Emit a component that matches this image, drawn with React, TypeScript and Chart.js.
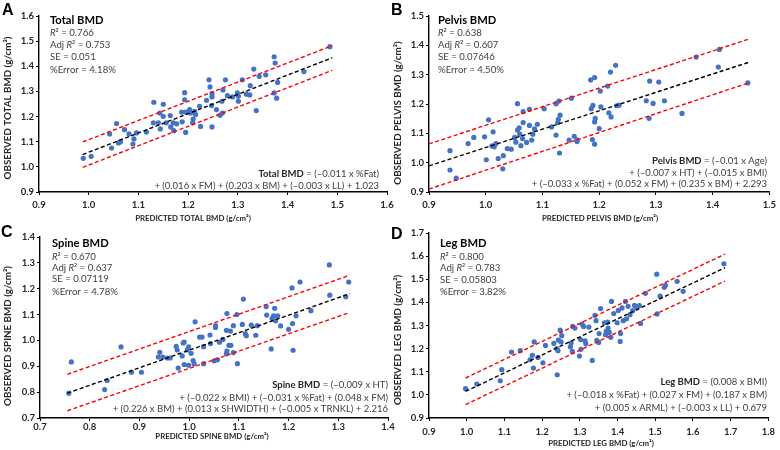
import React, { useEffect, useRef } from "react";
import { Chart, registerables } from "chart.js";
Chart.register(...registerables);

const FAMILY = "Lato, 'Open Sans', sans-serif";

// ---------- DATA ----------
const A_x = [0.989,1.005,1.042,1.046,1.056,1.060,1.064,1.072,1.081,1.089,1.091,1.096,1.116,1.131,1.130,1.140,1.143,1.144,1.150,1.150,1.156,1.164,1.165,1.170,1.171,1.177,1.187,1.188,1.193,1.193,1.195,1.195,1.203,1.205,1.209,1.210,1.213,1.215,1.223,1.225,1.237,1.242,1.244,1.247,1.248,1.248,1.248,1.257,1.264,1.268,1.270,1.269,1.275,1.279,1.289,1.299,1.301,1.301,1.309,1.317,1.324,1.325,1.332,1.337,1.343,1.356,1.373,1.375,1.373,1.378,1.380,1.433,1.485];
const A_y = [1.034,1.042,1.131,1.075,1.172,1.095,1.100,1.148,1.131,1.091,1.111,1.135,1.139,1.257,1.175,1.175,1.214,1.151,1.249,1.201,1.175,1.204,1.159,1.175,1.144,1.171,1.218,1.179,1.295,1.267,1.137,1.218,1.228,1.214,1.175,1.190,1.221,1.208,1.241,1.161,1.265,1.346,1.318,1.244,1.278,1.291,1.159,1.228,1.205,1.261,1.306,1.214,1.346,1.283,1.278,1.294,1.261,1.281,1.346,1.289,1.286,1.323,1.389,1.224,1.360,1.366,1.438,1.413,1.294,1.273,1.336,1.379,1.478];
const A_fitX = [0.988, 1.49];
const A_fitY = [1.049, 1.434];
const A_upY = [1.099, 1.482];
const A_loY = [0.998, 1.384];

const B_x = [0.937,0.937,0.948,0.969,0.979,0.998,1.001,1.005,1.013,1.011,1.015,1.018,1.022,1.030,1.031,1.038,1.045,1.051,1.053,1.056,1.056,1.059,1.060,1.062,1.065,1.066,1.066,1.072,1.077,1.077,1.081,1.083,1.086,1.091,1.103,1.116,1.124,1.124,1.127,1.128,1.129,1.130,1.131,1.147,1.151,1.156,1.161,1.161,1.185,1.186,1.188,1.189,1.192,1.192,1.193,1.192,1.200,1.202,1.203,1.215,1.217,1.220,1.221,1.229,1.231,1.235,1.283,1.289,1.288,1.295,1.305,1.315,1.346,1.371,1.410,1.412,1.462];
const B_y = [1.041,0.975,0.947,1.065,1.086,1.088,1.010,1.146,1.105,1.057,1.054,1.065,1.014,0.979,1.024,1.048,1.046,1.086,1.070,1.201,1.111,1.119,1.097,1.058,1.082,1.137,1.174,1.069,1.127,1.182,1.077,1.097,1.115,1.131,1.184,1.122,1.094,1.201,1.137,1.148,1.210,1.033,1.162,1.077,1.220,1.090,1.072,1.078,1.282,1.184,1.079,1.195,1.290,1.139,1.151,1.063,1.116,1.244,1.190,1.261,1.170,1.309,1.156,1.332,1.194,1.196,1.211,1.278,1.151,1.202,1.275,1.211,1.168,1.360,1.326,1.386,1.272];
const B_fitX = [0.9, 1.465];
const B_fitY = [0.989, 1.343];
const B_upY = [1.064, 1.422];
const B_loY = [0.910, 1.273];

const C_x = [0.758,0.763,0.830,0.835,0.863,0.884,0.904,0.938,0.941,0.947,0.956,0.962,0.974,0.976,0.978,0.986,0.988,0.990,0.990,0.996,0.999,0.999,1.004,1.008,1.010,1.012,1.021,1.026,1.029,1.029,1.042,1.043,1.050,1.053,1.053,1.057,1.061,1.068,1.075,1.075,1.076,1.076,1.080,1.083,1.084,1.089,1.089,1.096,1.097,1.107,1.109,1.113,1.115,1.125,1.134,1.137,1.155,1.156,1.165,1.167,1.170,1.172,1.174,1.178,1.184,1.200,1.207,1.208,1.209,1.215,1.223,1.245,1.282,1.283,1.315,1.321];
const C_y = [0.796,0.917,0.810,0.845,0.975,0.877,0.877,0.936,0.954,0.936,0.932,0.932,0.977,0.963,0.893,0.940,0.990,0.994,0.907,0.963,0.975,0.904,0.950,0.922,0.910,1.072,1.013,1.013,0.976,0.910,1.021,0.988,0.921,1.057,1.050,0.925,0.993,1.004,1.039,0.948,0.959,1.104,0.981,1.036,0.981,0.953,1.057,1.100,0.910,1.062,1.160,1.026,1.018,1.059,1.020,1.057,1.131,1.098,0.967,1.085,1.095,1.124,1.076,1.095,1.056,1.043,1.203,1.065,0.962,1.095,1.226,1.115,1.292,1.175,1.169,1.226];
const C_fitX = [0.755, 1.323];
const C_fitY = [0.796, 1.181];
const C_upY = [0.869, 1.252];
const C_loY = [0.728, 1.108];

const D_x = [0.997,1.027,1.089,1.093,1.119,1.142,1.168,1.174,1.177,1.179,1.189,1.202,1.209,1.231,1.239,1.240,1.242,1.243,1.248,1.250,1.252,1.275,1.277,1.280,1.281,1.287,1.299,1.302,1.303,1.306,1.310,1.314,1.316,1.324,1.333,1.340,1.343,1.345,1.350,1.351,1.355,1.365,1.368,1.370,1.374,1.375,1.378,1.382,1.384,1.390,1.399,1.402,1.407,1.408,1.412,1.415,1.421,1.424,1.428,1.433,1.440,1.445,1.451,1.458,1.461,1.474,1.504,1.505,1.513,1.524,1.527,1.558,1.574,1.682];
const D_y = [1.027,1.047,1.061,1.109,1.185,1.191,1.152,1.171,1.116,1.229,1.162,1.139,1.214,1.223,1.200,1.087,1.191,1.237,1.280,1.229,1.256,1.208,1.224,1.188,1.296,1.289,1.168,1.239,1.197,1.306,1.296,1.234,1.221,1.293,1.149,1.344,1.321,1.236,1.227,1.265,1.373,1.312,1.260,1.275,1.315,1.289,1.270,1.249,1.404,1.352,1.312,1.365,1.231,1.265,1.376,1.321,1.404,1.329,1.383,1.347,1.364,1.387,1.378,1.386,1.309,1.439,1.522,1.350,1.427,1.465,1.474,1.491,1.448,1.567];
const D_fitX = [0.997, 1.685];
const D_fitY = [1.015, 1.550];
const D_upY = [1.073, 1.609];
const D_loY = [0.958, 1.492];

// axis ranges
const A_range = { xmin: 0.9, xmax: 1.6, ymin: 0.9, ymax: 1.6 };
const B_range = { xmin: 0.9, xmax: 1.5, ymin: 0.9, ymax: 1.5 };
const C_range = { xmin: 0.7, xmax: 1.4, ymin: 0.7, ymax: 1.4 };
const D_range = { xmin: 0.9, xmax: 1.8, ymin: 0.9, ymax: 1.7 };

// texts
const A_name = "Total BMD";
const A_stats = ["0.766", "0.753", "0.051", "4.18%"];
const A_eq = [" = (–0.011 x %Fat)", "+ (0.016 x FM) + (0.203 x BM) + (–0.003 x LL) + 1.023"];
const B_name = "Pelvis BMD";
const B_stats = ["0.638", "0.607", "0.07646", "4.50%"];
const B_eq = [" = (–0.01 x Age)", "+ (–0.007 x HT) + (–0.015 x BMI)", "+ (–0.033 x %Fat) + (0.052 x FM) + (0.235 x BM) + 2.293"];
const C_name = "Spine BMD";
const C_stats = ["0.670", "0.637", "0.07119", "4.78%"];
const C_eq = [" = (–0.009 x HT)", "+ (–0.022 x BMI) + (–0.031 x %Fat) + (0.048 x FM)", "+ (0.226 x BM) + (0.013 x SHWIDTH) + (–0.005 x TRNKL) + 2.216"];
const D_name = "Leg BMD";
const D_stats = ["0.800", "0.783", "0.05803", "3.82%"];
const D_eq = [" = (0.008 x BMI)", "+ (–0.018 x %Fat) + (0.027 x FM) + (0.187 x BM)", "+ (0.005 x ARML) + (–0.003 x LL) + 0.679"];

const A_xTitle = "PREDICTED TOTAL BMD (g/cm²)";
const A_yTitle = "OBSERVED TOTAL BMD (g/cm²)";
const B_xTitle = "PREDICTED PELVIS BMD (g/cm²)";
const B_yTitle = "OBSERVED PELVIS BMD (g/cm²)";
const C_xTitle = "PREDICTED SPINE BMD (g/cm²)";
const C_yTitle = "OBSERVED SPINE BMD (g/cm²)";
const D_xTitle = "PREDICTED LEG BMD (g/cm²)";
const D_yTitle = "OBSERVED LEG BMD (g/cm²)";

// ---------- LAYOUT (pixels, not data) ----------
type Layout = {
  letter: string; letterX: number; letterY: number;
  left: number; top: number; right: number; bottom: number;
  xTickPad: number;
  statX: number; statTitleY: number; statYs: number[];
  eqRight: number; eqYs: number[];
  xTitleX: number; xTitleY: number; yTitleX: number; yTitleY: number;
};

const W = 780, H = 450;

type Seg = { t: string; b?: boolean; i?: boolean };

function drawRich(ctx: CanvasRenderingContext2D, segs: Seg[], x: number, y: number, align: "left" | "right", size: number, normalColor: string, boldColor: string) {
  const fontFor = (s: Seg) => `${s.i ? "italic " : ""}${s.b ? "bold " : ""}${size}px ${FAMILY}`;
  let total = 0;
  for (const s of segs) { ctx.font = fontFor(s); total += ctx.measureText(s.t).width; }
  let cx = align === "right" ? x - total : x;
  ctx.textAlign = "left";
  ctx.textBaseline = "middle";
  for (const s of segs) {
    ctx.font = fontFor(s);
    ctx.fillStyle = s.b ? boldColor : normalColor;
    ctx.fillText(s.t, cx, y);
    cx += ctx.measureText(s.t).width;
  }
}

function makePanel(canvas: HTMLCanvasElement, xs: number[], ys: number[], fitX: number[], fitY: number[], upY: number[], loY: number[], range: any, name: string, stats: string[], eq: string[], xTitle: string, yTitle: string, L: Layout) {
  const n = Math.min(xs.length, ys.length);
  const pts = [] as { x: number; y: number }[];
  for (let i = 0; i < n; i++) pts.push({ x: xs[i], y: ys[i] });
  const line = (yy: number[]) => fitX.map((x, i) => ({ x, y: yy[i] }));
  const yAxisW = L.left >= 390 ? L.left - 390 : L.left;

  const textPlugin = {
    id: "texts" + L.letter,
    afterDraw(chart: any) {
      const ctx: CanvasRenderingContext2D = chart.ctx;
      ctx.save();
      // panel letter
      ctx.font = `bold 16px 'Liberation Sans', Arial, sans-serif`;
      ctx.fillStyle = "#000";
      ctx.textAlign = "left";
      ctx.textBaseline = "alphabetic";
      ctx.fillText(L.letter, L.letterX, L.letterY);
      // stats
      const gray = "#404040";
      drawRich(ctx, [{ t: name, b: true }], L.statX, L.statTitleY, "left", 11.2, gray, "#000");
      drawRich(ctx, [{ t: "R", i: true }, { t: "² = " + stats[0] }], L.statX, L.statYs[0], "left", 9.6, gray, gray);
      drawRich(ctx, [{ t: "Adj " }, { t: "R", i: true }, { t: "² = " + stats[1] }], L.statX, L.statYs[1], "left", 9.6, gray, gray);
      drawRich(ctx, [{ t: "SE = " + stats[2] }], L.statX, L.statYs[2], "left", 9.6, gray, gray);
      drawRich(ctx, [{ t: "%Error = " + stats[3] }], L.statX, L.statYs[3], "left", 9.6, gray, gray);
      // equation
      eq.forEach((line, i) => {
        const segs: Seg[] = i === 0 ? [{ t: name, b: true }, { t: line }] : [{ t: line }];
        drawRich(ctx, segs, L.eqRight, L.eqYs[i], "right", 9.5, gray, "#262626");
      });
      // axis titles
      ctx.fillStyle = "#262626";
      ctx.font = `bold 7.8px ${FAMILY}`;
      ctx.textAlign = "center";
      ctx.textBaseline = "middle";
      ctx.fillText(xTitle, L.xTitleX, L.xTitleY);
      ctx.translate(L.yTitleX, L.yTitleY);
      ctx.rotate(-Math.PI / 2);
      ctx.font = `bold 9.8px ${FAMILY}`;
      ctx.fillText(yTitle, 0, 0);
      ctx.restore();
    },
  };

  const axisCommon = (min: number, max: number) => ({
    type: "linear" as const,
    min, max,
    ticks: {
      stepSize: 0.1,
      color: "#262626",
      font: { family: FAMILY, size: 9.5, weight: "bold" as const },
      callback: (v: any) => Number(v).toFixed(1),
    },
    grid: { display: true, drawOnChartArea: false, drawTicks: true, tickLength: 3, tickColor: "#000", lineWidth: 1 },
    border: { display: true, color: "#000", width: 1.4 },
    title: { display: false },
  });

  const xScale: any = axisCommon(range.xmin, range.xmax);
  xScale.ticks.padding = L.xTickPad;
  xScale.afterFit = (s: any) => { s.height = 20; };
  const yScale: any = axisCommon(range.ymin, range.ymax);
  yScale.ticks.padding = 2;
  yScale.afterFit = (s: any) => { s.width = yAxisW; };

  const padLeft = L.left - yAxisW;

  return new Chart(canvas, {
    type: "scatter",
    data: {
      datasets: [
        { data: line(fitY), showLine: true, pointRadius: 0, borderColor: "#000", borderWidth: 1.4, borderDash: [4, 2.5], fill: false } as any,
        { data: line(upY), showLine: true, pointRadius: 0, borderColor: "#FF0000", borderWidth: 1.4, borderDash: [4, 2.5], fill: false } as any,
        { data: line(loY), showLine: true, pointRadius: 0, borderColor: "#FF0000", borderWidth: 1.4, borderDash: [4, 2.5], fill: false } as any,
        { data: pts, pointRadius: 2.6, pointBackgroundColor: "#4472C4", pointBorderWidth: 0, pointBorderColor: "#4472C4" } as any,
      ],
    },
    options: {
      responsive: false,
      animation: false,
      layout: { padding: { left: padLeft, top: L.top, right: W - L.right, bottom: H - L.bottom - 20 } },
      plugins: { legend: { display: false }, tooltip: { enabled: false } },
      events: [],
      scales: { x: xScale, y: yScale },
    } as any,
    plugins: [textPlugin],
  });
}

const LA: Layout = {
  letter: "A", letterX: 2, letterY: 15,
  left: 39, top: 16, right: 387, bottom: 192, xTickPad: 4,
  statX: 50, statTitleY: 20, statYs: [33, 45, 57, 70],
  eqRight: 379, eqYs: [174, 186],
  xTitleX: 193, xTitleY: 218, yTitleX: 8, yTitleY: 108,
};
const LB: Layout = {
  letter: "B", letterX: 391, letterY: 15,
  left: 429, top: 16, right: 771, bottom: 192, xTickPad: 4,
  statX: 438, statTitleY: 20, statYs: [33, 45, 57, 70],
  eqRight: 767, eqYs: [161, 173, 184],
  xTitleX: 600, xTitleY: 218, yTitleX: 398, yTitleY: 113,
};
const LC: Layout = {
  letter: "C", letterX: 1, letterY: 237,
  left: 40, top: 237, right: 388, bottom: 418, xTickPad: 0,
  statX: 52, statTitleY: 243, statYs: [257, 268, 279, 292],
  eqRight: 388, eqYs: [385, 398, 409],
  xTitleX: 212, xTitleY: 436, yTitleX: 8, yTitleY: 336,
};
const LD: Layout = {
  letter: "D", letterX: 391, letterY: 239,
  left: 429, top: 233, right: 770, bottom: 418, xTickPad: 5,
  statX: 440, statTitleY: 243, statYs: [257, 268, 280, 292],
  eqRight: 767, eqYs: [382, 395, 408],
  xTitleX: 601, xTitleY: 443, yTitleX: 398, yTitleY: 340,
};

export default function App() {
  const r1 = useRef<HTMLCanvasElement>(null);
  const r2 = useRef<HTMLCanvasElement>(null);
  const r3 = useRef<HTMLCanvasElement>(null);
  const r4 = useRef<HTMLCanvasElement>(null);

  useEffect(() => {
    const charts = [
      makePanel(r1.current!, A_x, A_y, A_fitX, A_fitY, A_upY, A_loY, A_range, A_name, A_stats, A_eq, A_xTitle, A_yTitle, LA),
      makePanel(r2.current!, B_x, B_y, B_fitX, B_fitY, B_upY, B_loY, B_range, B_name, B_stats, B_eq, B_xTitle, B_yTitle, LB),
      makePanel(r3.current!, C_x, C_y, C_fitX, C_fitY, C_upY, C_loY, C_range, C_name, C_stats, C_eq, C_xTitle, C_yTitle, LC),
      makePanel(r4.current!, D_x, D_y, D_fitX, D_fitY, D_upY, D_loY, D_range, D_name, D_stats, D_eq, D_xTitle, D_yTitle, LD),
    ];
    return () => charts.forEach((c) => c.destroy());
  }, []);

  const cs: React.CSSProperties = { position: "absolute", left: 0, top: 0, width: W, height: H };
  return (
    <div style={{ position: "fixed", left: 0, top: 0, width: W, height: H, background: "#fff", overflow: "hidden" }}>
      <canvas ref={r1} width={W} height={H} style={cs} />
      <canvas ref={r2} width={W} height={H} style={cs} />
      <canvas ref={r3} width={W} height={H} style={cs} />
      <canvas ref={r4} width={W} height={H} style={cs} />
    </div>
  );
}
